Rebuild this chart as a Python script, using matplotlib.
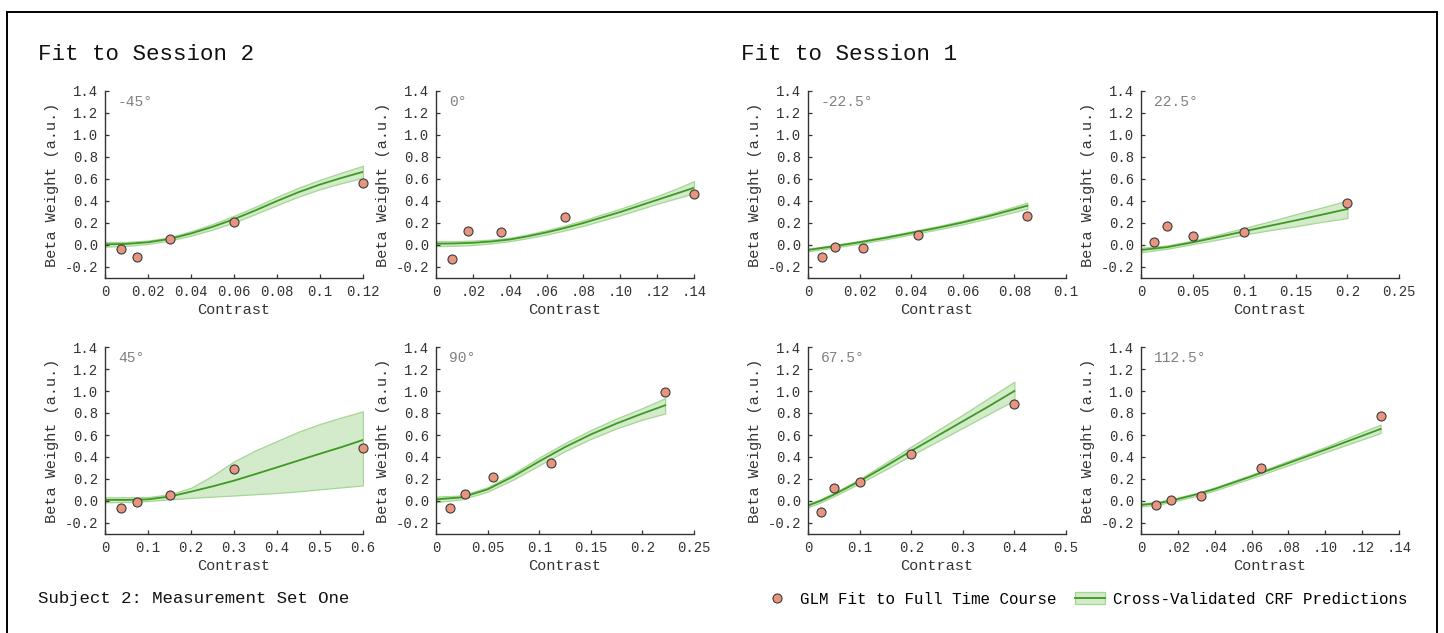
import matplotlib
matplotlib.use("Agg")
import matplotlib.pyplot as plt
from matplotlib.lines import Line2D
from matplotlib.patches import Patch, Rectangle

plt.rcParams['font.family'] = ['Liberation Mono', 'DejaVu Sans Mono']

# panel order: top row (S2 -45, S2 0, S1 -22.5, S1 22.5), bottom row (S2 45, S2 90, S1 67.5, S1 112.5)
angles = ['-45°', '0°', '-22.5°', '22.5°', '45°', '90°', '67.5°', '112.5°']

glm_x = [
    [0.0075, 0.015, 0.03, 0.06, 0.12],
    [0.00875, 0.0175, 0.035, 0.07, 0.14],
    [0.0053, 0.0106, 0.0213, 0.0425, 0.085],
    [0.0125, 0.025, 0.05, 0.1, 0.2],
    [0.0375, 0.075, 0.15, 0.3, 0.6],
    [0.0139, 0.0278, 0.0556, 0.111, 0.222],
    [0.025, 0.05, 0.1, 0.2, 0.4],
    [0.0081, 0.0162, 0.0325, 0.065, 0.13],
]
glm_y = [
    [-0.04, -0.11, 0.055, 0.21, 0.56],
    [-0.13, 0.13, 0.12, 0.25, 0.46],
    [-0.11, -0.02, -0.03, 0.088, 0.26],
    [0.027, 0.17, 0.08, 0.118, 0.38],
    [-0.067, -0.012, 0.058, 0.294, 0.48],
    [-0.067, 0.067, 0.215, 0.345, 0.99],
    [-0.097, 0.115, 0.176, 0.427, 0.885],
    [-0.033, 0.006, 0.05, 0.297, 0.77],
]

crf_x = [
    [0, 0.01, 0.02, 0.03, 0.04, 0.05, 0.06, 0.07, 0.08, 0.09, 0.10, 0.11, 0.12],
    [0, 0.01, 0.02, 0.03, 0.04, 0.05, 0.06, 0.07, 0.08, 0.09, 0.10, 0.11, 0.12, 0.13, 0.14],
    [0, 0.01, 0.02, 0.03, 0.04, 0.05, 0.06, 0.07, 0.08, 0.085],
    [0, 0.025, 0.05, 0.075, 0.1, 0.125, 0.15, 0.175, 0.2],
    [0, 0.05, 0.1, 0.15, 0.2, 0.25, 0.3, 0.35, 0.4, 0.45, 0.5, 0.55, 0.6],
    [0, 0.025, 0.05, 0.075, 0.1, 0.125, 0.15, 0.175, 0.2, 0.222],
    [0, 0.025, 0.05, 0.1, 0.15, 0.2, 0.25, 0.3, 0.35, 0.4],
    [0, 0.01, 0.02, 0.03, 0.04, 0.06, 0.08, 0.1, 0.13],
]
crf_y = [
    [0.006, 0.01, 0.025, 0.055, 0.105, 0.165, 0.235, 0.315, 0.40, 0.48, 0.55, 0.61, 0.665],
    [0.012, 0.014, 0.02, 0.032, 0.05, 0.08, 0.115, 0.155, 0.2, 0.25, 0.3, 0.355, 0.41, 0.465, 0.52],
    [-0.045, -0.012, 0.025, 0.065, 0.11, 0.155, 0.205, 0.262, 0.325, 0.357],
    [-0.045, -0.02, 0.024, 0.073, 0.124, 0.175, 0.224, 0.275, 0.327],
    [0.01, 0.01, 0.015, 0.04, 0.085, 0.133, 0.185, 0.245, 0.306, 0.368, 0.43, 0.49, 0.555],
    [0.015, 0.033, 0.106, 0.224, 0.36, 0.49, 0.605, 0.705, 0.795, 0.87],
    [-0.042, 0.003, 0.058, 0.18, 0.315, 0.455, 0.59, 0.725, 0.86, 1.0],
    [-0.036, -0.018, 0.018, 0.06, 0.109, 0.224, 0.345, 0.467, 0.655],
]
crf_lo = [
    [-0.015, -0.008, 0.01, 0.04, 0.085, 0.14, 0.205, 0.282, 0.362, 0.44, 0.507, 0.562, 0.61],
    [-0.01, -0.007, 0.0, 0.015, 0.035, 0.063, 0.095, 0.133, 0.175, 0.222, 0.27, 0.322, 0.375, 0.422, 0.47],
    [-0.057, -0.024, 0.013, 0.052, 0.096, 0.14, 0.188, 0.242, 0.301, 0.33],
    [-0.065, -0.035, 0.008, 0.05, 0.095, 0.135, 0.17, 0.21, 0.245],
    [-0.012, -0.008, 0.0, 0.015, 0.028, 0.04, 0.05, 0.062, 0.073, 0.088, 0.106, 0.124, 0.142],
    [-0.01, 0.015, 0.085, 0.195, 0.325, 0.453, 0.565, 0.66, 0.74, 0.795],
    [-0.057, -0.012, 0.043, 0.16, 0.285, 0.415, 0.54, 0.665, 0.79, 0.915],
    [-0.05, -0.03, 0.005, 0.047, 0.095, 0.208, 0.325, 0.443, 0.618],
]
crf_hi = [
    [0.027, 0.028, 0.04, 0.07, 0.125, 0.19, 0.265, 0.348, 0.438, 0.52, 0.593, 0.658, 0.72],
    [0.034, 0.035, 0.04, 0.049, 0.065, 0.097, 0.135, 0.177, 0.225, 0.278, 0.33, 0.388, 0.445, 0.51, 0.58],
    [-0.033, 0.0, 0.037, 0.078, 0.124, 0.17, 0.222, 0.282, 0.349, 0.385],
    [-0.025, -0.005, 0.04, 0.095, 0.155, 0.215, 0.28, 0.34, 0.405],
    [0.033, 0.034, 0.036, 0.06, 0.12, 0.23, 0.36, 0.46, 0.545, 0.63, 0.7, 0.76, 0.815],
    [0.04, 0.05, 0.125, 0.25, 0.395, 0.527, 0.645, 0.75, 0.845, 0.935],
    [-0.027, 0.018, 0.073, 0.2, 0.345, 0.495, 0.64, 0.785, 0.935, 1.085],
    [-0.022, -0.006, 0.031, 0.073, 0.123, 0.24, 0.365, 0.491, 0.695],
]

xticks = [
    [0, 0.02, 0.04, 0.06, 0.08, 0.1, 0.12],
    [0, 0.02, 0.04, 0.06, 0.08, 0.10, 0.12, 0.14],
    [0, 0.02, 0.04, 0.06, 0.08, 0.1],
    [0, 0.05, 0.1, 0.15, 0.2, 0.25],
    [0, 0.1, 0.2, 0.3, 0.4, 0.5, 0.6],
    [0, 0.05, 0.1, 0.15, 0.2, 0.25],
    [0, 0.1, 0.2, 0.3, 0.4, 0.5],
    [0, 0.02, 0.04, 0.06, 0.08, 0.10, 0.12, 0.14],
]
xticklabels = [
    ['0', '0.02', '0.04', '0.06', '0.08', '0.1', '0.12'],
    ['0', '.02', '.04', '.06', '.08', '.10', '.12', '.14'],
    ['0', '0.02', '0.04', '0.06', '0.08', '0.1'],
    ['0', '0.05', '0.1', '0.15', '0.2', '0.25'],
    ['0', '0.1', '0.2', '0.3', '0.4', '0.5', '0.6'],
    ['0', '0.05', '0.1', '0.15', '0.2', '0.25'],
    ['0', '0.1', '0.2', '0.3', '0.4', '0.5'],
    ['0', '.02', '.04', '.06', '.08', '.10', '.12', '.14'],
]
yticks = [-0.2, 0.0, 0.2, 0.4, 0.6, 0.8, 1.0, 1.2, 1.4]

W, H = 1444, 633
fig = plt.figure(figsize=(W / 100, H / 100), dpi=100)

lefts = [105, 436, 808, 1141]
tops = [91, 347]
aw, ah = 258, 187

dot_color = '#E8957F'
line_color = '#3C9A22'
band_face = '#D3EACB'
band_edge = '#A6D694'
ink = '#333333'

for i in range(8):
    row, col = divmod(i, 4)
    ax = fig.add_axes([lefts[col] / W, 1 - (tops[row] + ah) / H, aw / W, ah / H])
    ax.fill_between(crf_x[i], crf_lo[i], crf_hi[i], facecolor=band_face,
                    edgecolor=band_edge, linewidth=0.9, zorder=1)
    ax.plot(crf_x[i], crf_y[i], color=line_color, lw=1.3, zorder=2)
    ax.plot(glm_x[i], glm_y[i], 'o', ms=6.5, mfc=dot_color, mec='#3a3a3a',
            mew=0.8, zorder=3, clip_on=False)
    ax.set_xlim(0, xticks[i][-1])
    ax.set_ylim(-0.3, 1.4)
    ax.set_xticks(xticks[i])
    ax.set_xticklabels(xticklabels[i])
    ax.set_yticks(yticks)
    ax.set_yticklabels([f'{v:.1f}' for v in yticks])
    for s in ['top', 'right']:
        ax.spines[s].set_visible(False)
    for s in ['left', 'bottom']:
        ax.spines[s].set_color(ink)
        ax.spines[s].set_linewidth(1.0)
    ax.tick_params(direction='in', length=3, width=0.9, color=ink,
                   labelcolor=ink, labelsize=10, pad=5)
    ax.set_xlabel('Contrast', fontsize=11, color=ink, labelpad=3)
    ax.set_ylabel('Beta Weight (a.u.)', fontsize=11, color=ink, labelpad=4)
    ax.text(0.05, 0.94, angles[i], transform=ax.transAxes, fontsize=10.5,
            color='#808080', va='center', ha='left')

fig.text(38 / W, 1 - 54 / H, 'Fit to Session 2', fontsize=16.2, va='center', ha='left', color='#111111')
fig.text(741 / W, 1 - 54 / H, 'Fit to Session 1', fontsize=16.2, va='center', ha='left', color='#111111')
fig.text(38 / W, 1 - 599 / H, 'Subject 2: Measurement Set One', fontsize=12.5,
         va='center', ha='left', color='#111111')

handles = [
    Line2D([], [], marker='o', ls='none', ms=6.5, mfc=dot_color, mec='#3a3a3a', mew=0.8),
    (Patch(facecolor=band_face, edgecolor=band_edge, lw=0.9),
     Line2D([], [], color=line_color, lw=1.3)),
]
labels = ['GLM Fit to Full Time Course', 'Cross-Validated CRF Predictions']
fig.legend(handles, labels, loc='center right', bbox_to_anchor=(1414 / W, 1 - 599 / H),
           ncol=2, frameon=False, fontsize=11.4, handlelength=1.9, handletextpad=0.5,
           columnspacing=1.2, borderaxespad=0)

fig.add_artist(Rectangle((7 / W, -0.02), (1437 - 7) / W, 1.02 - 12 / H,
                         transform=fig.transFigure, fill=False, edgecolor='black', lw=1.4))

fig.savefig('out.png', dpi=100, facecolor='white')
